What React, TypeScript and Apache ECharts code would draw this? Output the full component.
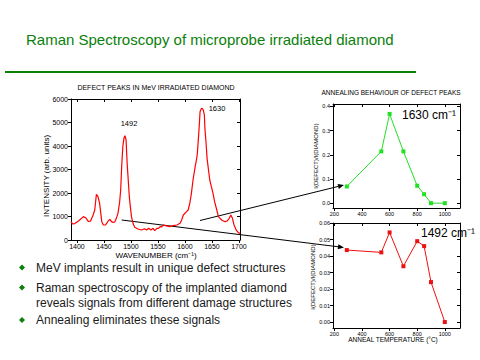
import React, { useEffect, useRef } from 'react';
import * as echarts from 'echarts';

// ---------- data ----------
const wavenumber = [
  1389, 1392, 1396, 1401, 1405, 1412, 1416, 1421, 1425, 1430, 1433, 1436, 1439, 1442, 1446, 1449,
  1453, 1458, 1461, 1464, 1467, 1470, 1473, 1476, 1479, 1481, 1483, 1485, 1487, 1489, 1491, 1493,
  1495, 1497, 1499, 1501, 1504, 1507, 1513, 1520, 1525, 1529, 1533, 1537, 1541, 1544, 1548, 1551,
  1554, 1557, 1560, 1564, 1568, 1572, 1578, 1585, 1591, 1594, 1597, 1603, 1606, 1609, 1612, 1615,
  1619, 1622, 1623, 1625, 1627, 1628, 1630, 1632, 1634, 1636, 1637, 1639, 1641, 1643, 1646, 1649,
  1652, 1655, 1659, 1662, 1668, 1674, 1678, 1682, 1685, 1688, 1691, 1695, 1699, 1702,
];
const intensity = [
  779, 680, 700, 780, 851, 993, 950, 790, 800, 1064, 1277, 1944, 1844, 1560, 779, 638,
  640, 808, 880, 780, 752, 766, 922, 1135, 1600, 2128, 3200, 3972, 4326, 4438, 4255, 3262,
  2553, 1844, 1400, 993, 700, 540, 468, 425, 480, 425, 496, 425, 496, 397, 496, 496,
  567, 560, 638, 610, 590, 567, 610, 638, 709, 851, 1064, 1206, 1277, 1560, 1986, 2553,
  3120, 3500, 3688, 4326, 5035, 5460, 5580, 5603, 5532, 5319, 4752, 4183, 3475, 3100, 2553, 2270,
  1986, 1631, 1277, 993, 851, 779, 808, 922, 1064, 922, 638, 425, 312, 283,
];
const wavenumberTicks = [1400, 1450, 1500, 1550, 1600, 1650, 1700];
const intensityTicks = [0, 1000, 2000, 3000, 4000, 5000, 6000];

const annealTemp = [290, 540, 600, 700, 800, 850, 900, 1000];
const ratio1630 = [0.069, 0.214, 0.369, 0.214, 0.072, 0.037, 0.0, 0.0];
const ratio1492 = [0.0436, 0.0422, 0.0543, 0.0338, 0.049, 0.046, 0.0242, 0.0];
const tempTicks = [200, 400, 600, 800, 1000];
const ratio1630Ticks = [0, 0.1, 0.2, 0.3, 0.4];
const ratio1492Ticks = [0, 0.01, 0.02, 0.03, 0.04, 0.05, 0.06];

const slideTitle = 'Raman Spectroscopy of microprobe irradiated diamond';
const bullets = [
  ['MeV implants result in unique defect structures'],
  ['Raman spectroscopy of the implanted diamond', 'reveals signals from different damage structures'],
  ['Annealing eliminates these signals'],
];

// ---------- helpers ----------
const GREEN = '#0b800b';
const F = 'Liberation Sans, Arial, sans-serif';

function arrow(x1: number, y1: number, x2: number, y2: number) {
  const dx = x2 - x1, dy = y2 - y1;
  const len = Math.sqrt(dx * dx + dy * dy);
  const ux = dx / len, uy = dy / len;
  const hl = 6, hw = 2.6;
  const bx = x2 - ux * hl, by = y2 - uy * hl;
  return [
    { type: 'line', silent: true, shape: { x1, y1, x2: bx, y2: by }, style: { stroke: '#000', lineWidth: 1 } },
    {
      type: 'polygon', silent: true,
      shape: { points: [[x2, y2], [bx - uy * hw, by + ux * hw], [bx + uy * hw, by - ux * hw]] },
      style: { fill: '#000' },
    },
  ];
}

function txt(text: string, x: number, y: number, size: number, opts: any = {}) {
  return {
    type: 'text', x, y, rotation: opts.rotation || 0, silent: true,
    style: {
      text, fill: opts.color || '#000', fontSize: size, fontFamily: opts.family || F,
      fontWeight: opts.weight || 'normal',
      textAlign: opts.align || 'center', textVerticalAlign: 'middle',
    },
  };
}

function xAx(grid: number, min: number, max: number, ticks: number[], pos: string, labels: boolean, size: number) {
  return {
    gridIndex: grid, type: 'value', min, max, position: pos,
    axisLine: { show: true, onZero: false, lineStyle: { color: '#000', width: 1 } },
    axisTick: { show: true, inside: pos === 'top', length: 3, customValues: ticks, lineStyle: { color: '#000' } },
    axisLabel: labels
      ? {
          show: true, customValues: ticks, fontSize: size, color: '#000', margin: 3, fontFamily: F,
          formatter: (v: number) => String(Math.round(v)),
        }
      : { show: false },
    splitLine: { show: false },
  };
}
function yAx(grid: number, min: number, max: number, ticks: number[], pos: string, labels: boolean, size: number, dec: number) {
  return {
    gridIndex: grid, type: 'value', min, max, position: pos,
    axisLine: { show: true, onZero: false, lineStyle: { color: '#000', width: 1 } },
    axisTick: { show: true, inside: pos === 'right', length: 3, customValues: ticks, lineStyle: { color: '#000' } },
    axisLabel: labels
      ? {
          show: true, customValues: ticks, fontSize: size, color: '#000', margin: 3, fontFamily: F,
          formatter: (v: number) => (dec < 0 ? String(Math.round(v)) : v.toFixed(dec)),
        }
      : { show: false },
    splitLine: { show: false },
  };
}

export default function App() {
  const ref = useRef<HTMLDivElement>(null);
  useEffect(() => {
    if (!ref.current) return;
    const chart = echarts.init(ref.current, undefined, { renderer: 'svg' });

    const graphic: any[] = [];
    // slide title + rule
    graphic.push(txt(slideTitle, 26, 39, 15, { align: 'left', color: GREEN }));
    graphic.push({ type: 'rect', silent: true, shape: { x: 5, y: 71, width: 411, height: 2 }, style: { fill: GREEN } });
    // main chart texts
    graphic.push(txt('DEFECT PEAKS IN MeV IRRADIATED DIAMOND', 156, 87, 7));
    graphic.push(txt('INTENSITY (arb. units)', 46, 176, 8, { rotation: Math.PI / 2 }));
    graphic.push(txt('WAVENUMBER (cm⁻¹)', 156, 255, 8));
    graphic.push(txt('1492', 129, 123, 7.5));
    graphic.push(txt('1630', 217, 108, 7.5));
    // inset texts
    graphic.push(txt('ANNEALING BEHAVIOUR OF DEFECT PEAKS', 391, 92, 6.5));
    graphic.push(txt('I(DEFECT)/I(DIAMOND)', 316, 156, 6, { rotation: Math.PI / 2 }));
    graphic.push(txt('I(DEFECT)/I(DIAMOND)', 313, 277, 6, { rotation: Math.PI / 2 }));
    graphic.push(txt('ANNEAL TEMPERATURE (°C)', 393, 339, 6.5));
    graphic.push(txt('1630 cm⁻¹', 429, 115, 12));
    graphic.push(txt('1492 cm⁻¹', 448, 233, 12));
    // arrows
    graphic.push(...arrow(121.7, 220, 344, 247.5));
    graphic.push(...arrow(200, 220.5, 344, 185));
    // bullets
    const lineYs = [[267.5], [287.5, 302.5], [320]];
    bullets.forEach((lines, i) => {
      const by = lineYs[i][0];
      graphic.push({
        type: 'polygon', silent: true,
        shape: { points: [[22, by - 3], [25, by], [22, by + 3], [19, by]] },
        style: { fill: GREEN },
      });
      lines.forEach((l, j) => graphic.push(txt(l, 36, lineYs[i][j], 12, { align: 'left', color: '#1a1a1a' })));
    });

    chart.setOption({
      animation: false,
      backgroundColor: '#fff',
      grid: [
        { left: 71, top: 99, width: 169, height: 141 },
        { left: 333, top: 104, width: 127, height: 104 },
        { left: 333, top: 223, width: 127, height: 105 },
      ],
      xAxis: [
        xAx(0, 1389, 1702, wavenumberTicks, 'bottom', true, 7),
        xAx(0, 1389, 1702, wavenumberTicks, 'top', false, 7),
        xAx(1, 190, 1110, tempTicks, 'bottom', true, 5.5),
        xAx(1, 190, 1110, tempTicks, 'top', false, 5.5),
        xAx(2, 190, 1110, tempTicks, 'bottom', true, 5.5),
        xAx(2, 190, 1110, tempTicks, 'top', false, 5.5),
      ],
      yAxis: [
        yAx(0, 0, 6000, intensityTicks, 'left', true, 7, -1),
        yAx(0, 0, 6000, intensityTicks, 'right', false, 7, -1),
        yAx(1, -0.02, 0.41, ratio1630Ticks, 'left', true, 5.5, 1),
        yAx(1, -0.02, 0.41, ratio1630Ticks, 'right', false, 5.5, 1),
        yAx(2, -0.0036, 0.06, ratio1492Ticks, 'left', true, 5.5, 2),
        yAx(2, -0.0036, 0.06, ratio1492Ticks, 'right', false, 5.5, 2),
      ],
      series: [
        {
          type: 'line', xAxisIndex: 0, yAxisIndex: 0, showSymbol: false,
          data: wavenumber.map((w, i) => [w, intensity[i]]),
          lineStyle: { color: '#ff0000', width: 1.2 },
        },
        {
          type: 'line', xAxisIndex: 2, yAxisIndex: 2, symbol: 'rect', symbolSize: 4,
          data: annealTemp.map((t, i) => [t, ratio1630[i]]),
          lineStyle: { color: '#22e022', width: 1 }, itemStyle: { color: '#22e022' },
        },
        {
          type: 'line', xAxisIndex: 4, yAxisIndex: 4, symbol: 'rect', symbolSize: 4,
          data: annealTemp.map((t, i) => [t, ratio1492[i]]),
          lineStyle: { color: '#ee1111', width: 1 }, itemStyle: { color: '#ee1111' },
        },
      ],
      graphic,
    });
    return () => chart.dispose();
  }, []);
  return <div ref={ref} style={{ position: 'fixed', left: 0, top: 0, width: 480, height: 360 }} />;
}
